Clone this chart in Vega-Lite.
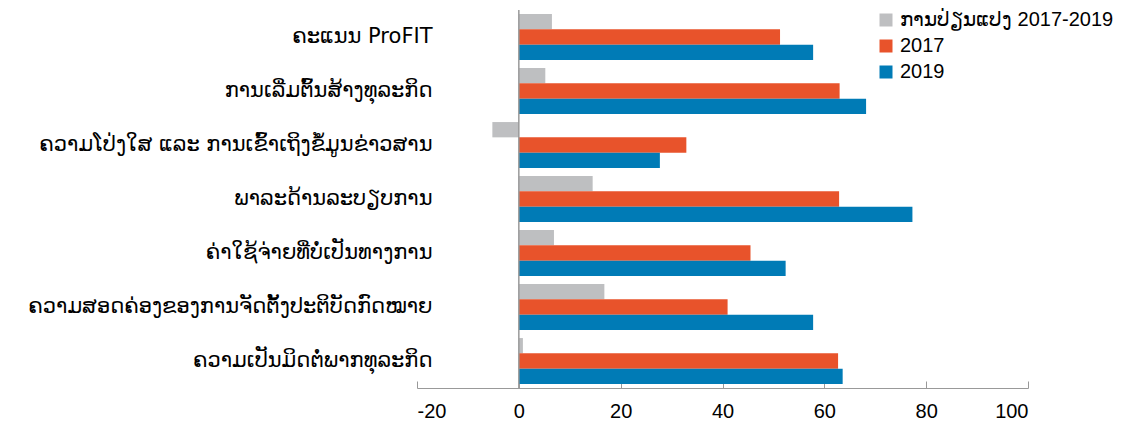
{
  "$schema": "https://vega.github.io/schema/vega-lite/v6.json",
  "autosize": {"type": "none"},
  "padding": {"left": 417, "top": 10, "right": 110, "bottom": 42},
  "width": 611,
  "height": 378,
  "config": {
    "view": {"stroke": null},
    "font": "Liberation Sans"
  },
  "layer": [
    {
      "data": {
        "values": [
          {"cat": "ຄະແນນ ProFIT", "series": "ການປ່ຽນແປງ 2017-2019", "value": 6.5},
          {"cat": "ຄະແນນ ProFIT", "series": "2017", "value": 51.3},
          {"cat": "ຄະແນນ ProFIT", "series": "2019", "value": 57.8},
          {"cat": "ການເລີ່ມຕົ້ນສ້າງທຸລະກິດ", "series": "ການປ່ຽນແປງ 2017-2019", "value": 5.2},
          {"cat": "ການເລີ່ມຕົ້ນສ້າງທຸລະກິດ", "series": "2017", "value": 63.0},
          {"cat": "ການເລີ່ມຕົ້ນສ້າງທຸລະກິດ", "series": "2019", "value": 68.2},
          {"cat": "ຄວາມໂປ່ງໃສ ແລະ ການເຂົ້າເຖິງຂໍ້ມູນຂ່າວສານ", "series": "ການປ່ຽນແປງ 2017-2019", "value": -5.2},
          {"cat": "ຄວາມໂປ່ງໃສ ແລະ ການເຂົ້າເຖິງຂໍ້ມູນຂ່າວສານ", "series": "2017", "value": 32.9},
          {"cat": "ຄວາມໂປ່ງໃສ ແລະ ການເຂົ້າເຖິງຂໍ້ມູນຂ່າວສານ", "series": "2019", "value": 27.7},
          {"cat": "ພາລະດ້ານລະບຽບການ", "series": "ການປ່ຽນແປງ 2017-2019", "value": 14.5},
          {"cat": "ພາລະດ້ານລະບຽບການ", "series": "2017", "value": 62.9},
          {"cat": "ພາລະດ້ານລະບຽບການ", "series": "2019", "value": 77.3},
          {"cat": "ຄ່າໃຊ້ຈ່າຍທີ່ບໍ່ເປັນທາງການ", "series": "ການປ່ຽນແປງ 2017-2019", "value": 6.9},
          {"cat": "ຄ່າໃຊ້ຈ່າຍທີ່ບໍ່ເປັນທາງການ", "series": "2017", "value": 45.5},
          {"cat": "ຄ່າໃຊ້ຈ່າຍທີ່ບໍ່ເປັນທາງການ", "series": "2019", "value": 52.4},
          {"cat": "ຄວາມສອດຄ່ອງຂອງການຈັດຕັ້ງປະຕິບັດກົດໝາຍ", "series": "ການປ່ຽນແປງ 2017-2019", "value": 16.8},
          {"cat": "ຄວາມສອດຄ່ອງຂອງການຈັດຕັ້ງປະຕິບັດກົດໝາຍ", "series": "2017", "value": 41.0},
          {"cat": "ຄວາມສອດຄ່ອງຂອງການຈັດຕັ້ງປະຕິບັດກົດໝາຍ", "series": "2019", "value": 57.8},
          {"cat": "ຄວາມເປັນມິດຕໍ່ພາກທຸລະກິດ", "series": "ການປ່ຽນແປງ 2017-2019", "value": 0.8},
          {"cat": "ຄວາມເປັນມິດຕໍ່ພາກທຸລະກິດ", "series": "2017", "value": 62.7},
          {"cat": "ຄວາມເປັນມິດຕໍ່ພາກທຸລະກິດ", "series": "2019", "value": 63.6}
        ]
      },
      "mark": {"type": "bar"},
      "encoding": {
        "y": {
          "field": "cat", "type": "nominal", "sort": null,
          "scale": {"paddingInner": 0.15, "paddingOuter": 0.075},
          "axis": {
            "title": null, "domain": false, "ticks": false, "tickSize": 0,
            "labelPadding": -15, "labelFontSize": 21, "labelColor": "#000000",
            "labelFont": "DejaVu Sans", "labelFontWeight": "normal",
            "labelLimit": 0
          }
        },
        "yOffset": {
          "field": "series", "type": "nominal",
          "sort": ["ການປ່ຽນແປງ 2017-2019", "2017", "2019"]
        },
        "x": {
          "field": "value", "type": "quantitative",
          "scale": {"domain": [-20, 100], "nice": false},
          "axis": {
            "title": null, "values": [-20, 0, 20, 40, 60, 80, 100],
            "labelExpr": "replace(datum.label, '\u2212', '-')",
            "grid": false, "domainColor": "#999999", "tickColor": "#999999",
            "tickSize": -7, "labelPadding": 20, "labelFontSize": 20,
            "labelColor": "#000000"
          }
        },
        "color": {
          "field": "series", "type": "nominal",
          "sort": ["ການປ່ຽນແປງ 2017-2019", "2017", "2019"],
          "scale": {
            "domain": ["ການປ່ຽນແປງ 2017-2019", "2017", "2019"],
            "range": ["#BEBFC1", "#E8532B", "#007BB6"]
          },
          "legend": {
            "title": null, "orient": "none", "legendX": 459, "legendY": 0,
            "symbolType": "square", "symbolSize": 169, "symbolStrokeWidth": 0,
            "labelFontSize": 20, "labelColor": "#000000", "rowPadding": 6,
            "labelOffset": 4, "labelLimit": 0
          }
        }
      }
    },
    {
      "data": {"values": [{"zero": 0}]},
      "mark": {"type": "rule", "color": "#999999", "strokeWidth": 1.5},
      "encoding": {"x": {"field": "zero", "type": "quantitative"}}
    }
  ]
}
